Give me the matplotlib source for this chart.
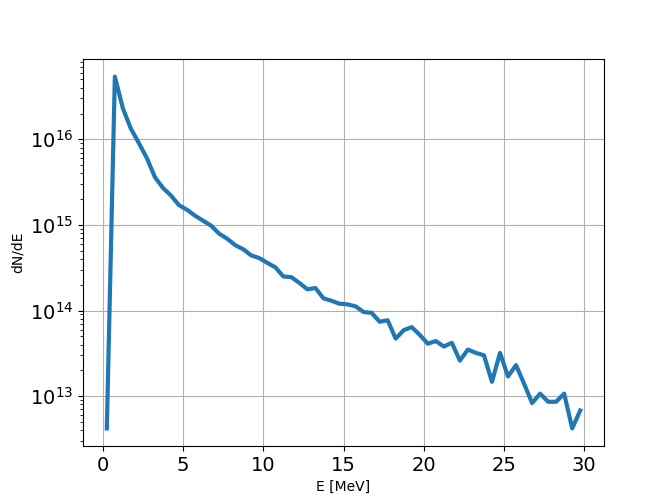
import numpy as np
import matplotlib
matplotlib.use("Agg")
import matplotlib.pyplot as plt

# energy bin centres [MeV]
energy = np.arange(0.25, 30.0, 0.5)

# spectrum dN/dE
dnde = [
    4.2e12, 5.4e16, 2.3e16, 1.33e16, 9.0e15, 6.0e15, 3.6e15, 2.7e15,
    2.2e15, 1.7e15, 1.5e15, 1.28e15, 1.12e15, 9.8e14, 7.9e14, 6.9e14,
    5.8e14, 5.2e14, 4.4e14, 4.1e14, 3.6e14, 3.2e14, 2.5e14, 2.45e14,
    2.1e14, 1.77e14, 1.83e14, 1.39e14, 1.3e14, 1.2e14, 1.18e14, 1.12e14,
    9.6e13, 9.4e13, 7.4e13, 7.7e13, 4.7e13, 5.9e13, 6.4e13, 5.2e13,
    4.1e13, 4.4e13, 3.8e13, 4.2e13, 2.6e13, 3.5e13, 3.2e13, 3.0e13,
    1.47e13, 3.2e13, 1.7e13, 2.3e13, 1.4e13, 8.3e12, 1.07e13, 8.6e12,
    8.6e12, 1.07e13, 4.2e12, 6.8e12,
]

fig = plt.figure(figsize=(6.6, 5), dpi=100)
ax = fig.add_subplot(111)
fig.subplots_adjust(left=0.126, right=0.915, bottom=0.108, top=0.882)

ax.plot(energy, dnde, linewidth=3, color="#1f77b4")
ax.set_yscale("log")
ax.set_xlabel("E [MeV]")
ax.set_ylabel("dN/dE")
ax.tick_params(axis="both", which="major", labelsize=14)
ax.grid()

fig.savefig("out.png")
